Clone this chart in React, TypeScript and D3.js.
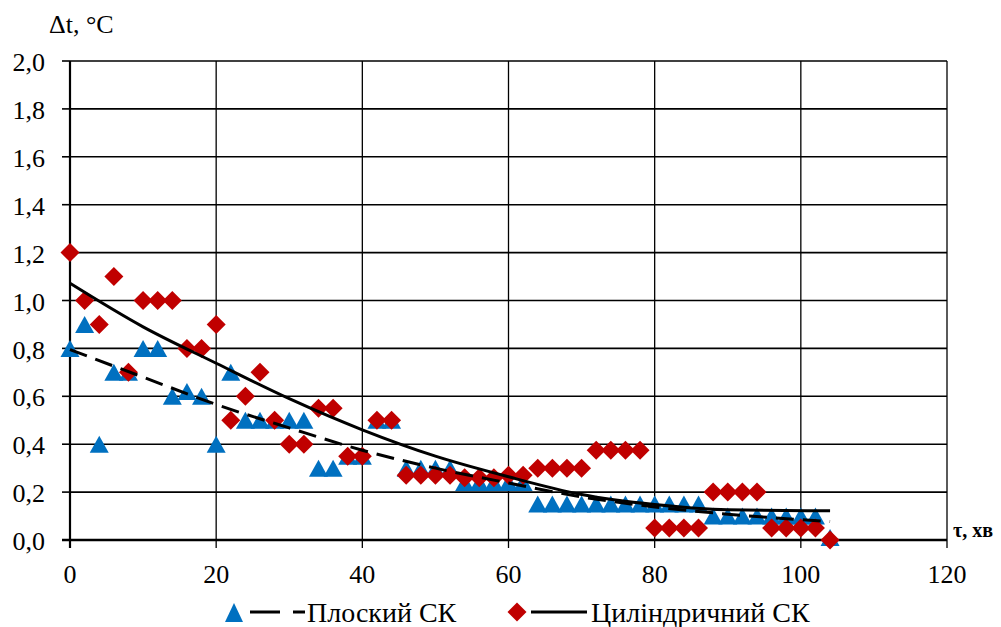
import React from "react";
import * as d3 from "d3";

// ---- data ----
const tau = d3.range(0, 105, 2); // 0..104 min
const flatSK = [
  0.8, 0.9, 0.4, 0.7, 0.7, 0.8, 0.8, 0.6, 0.62, 0.6, 0.4, 0.7, 0.5, 0.5, 0.5, 0.5, 0.5,
  0.3, 0.3, 0.35, 0.35, 0.5, 0.5, 0.3, 0.3, 0.3, 0.3, 0.24, 0.24, 0.24, 0.24, 0.24,
  0.15, 0.15, 0.15, 0.15, 0.15, 0.15, 0.15, 0.15, 0.15, 0.15, 0.15, 0.15,
  0.1, 0.1, 0.1, 0.1, 0.1, 0.1, 0.1, 0.1, 0.01,
];
const cylSK = [
  1.2, 1.0, 0.9, 1.1, 0.7, 1.0, 1.0, 1.0, 0.8, 0.8, 0.9, 0.5, 0.6, 0.7, 0.5, 0.4, 0.4,
  0.55, 0.55, 0.35, 0.35, 0.5, 0.5, 0.27, 0.27, 0.27, 0.27, 0.26, 0.26, 0.26, 0.27, 0.27,
  0.3, 0.3, 0.3, 0.3, 0.375, 0.375, 0.375, 0.375, 0.05, 0.05, 0.05, 0.05,
  0.2, 0.2, 0.2, 0.2, 0.05, 0.05, 0.05, 0.05, 0.0,
];
// trend lines
const trendX = [0, 10, 20, 30, 40, 50, 60, 70, 80, 90, 104];
const trendFlat = [0.795, 0.68, 0.566, 0.468, 0.375, 0.3, 0.238, 0.18, 0.138, 0.108, 0.077];
const trendCyl = [1.072, 0.89, 0.738, 0.59, 0.46, 0.35, 0.264, 0.19, 0.148, 0.126, 0.122];

const xTicks = [0, 20, 40, 60, 80, 100, 120];
const yTicks = [0, 0.2, 0.4, 0.6, 0.8, 1.0, 1.2, 1.4, 1.6, 1.8, 2.0];
const seriesNames = ["Плоский СК", "Циліндричний СК"];
const xTitle = "τ, хв";
const yTitle = "Δt, °C";

const BLUE = "#0070C0";
const RED = "#C00000";
const FONT = "Liberation Serif, Times New Roman, DejaVu Serif, Noto Serif, serif";

const W = 1001, H = 627;
const L = 70, R = 947, T = 61, B = 540;

const tri = (cx: number, cy: number, w = 19, h = 17) =>
  `M${cx},${cy - h / 2}L${cx + w / 2},${cy + h / 2}L${cx - w / 2},${cy + h / 2}Z`;
const dia = (cx: number, cy: number, r = 9.5) =>
  `M${cx},${cy - r}L${cx + r},${cy}L${cx},${cy + r}L${cx - r},${cy}Z`;

export default function App() {
  const x = d3.scaleLinear().domain([0, 120]).range([L, R]);
  const y = d3.scaleLinear().domain([0, 2]).range([B, T]);
  const fmt = (v: number) => d3.format(".1f")(v).replace(".", ",");
  const line = d3
    .line<number>()
    .x((_, i) => x(trendX[i]))
    .y((d) => y(d))
    .curve(d3.curveMonotoneX);
  const ts = { fontFamily: FONT };

  return (
    <svg width={W} height={H} style={{ position: "absolute", left: 0, top: 0, background: "#fff", fontFamily: FONT }}>
      <rect width={W} height={H} fill="#fff" />
      {/* grid */}
      {yTicks.filter((v) => v > 0).map((v) => (
        <line key={"h" + v} x1={L} x2={R} y1={y(v)} y2={y(v)} stroke="#000" strokeWidth={1.6} />
      ))}
      {xTicks.filter((v) => v > 0).map((v) => (
        <line key={"v" + v} x1={x(v)} x2={x(v)} y1={T} y2={B + 8} stroke="#000" strokeWidth={1.3} />
      ))}
      {/* axes */}
      <line x1={L} x2={L} y1={T} y2={B + 8} stroke="#000" strokeWidth={2.2} />
      <line x1={L - 8} x2={R} y1={B} y2={B} stroke="#000" strokeWidth={2.4} />
      {yTicks.map((v) => (
        <line key={"yt" + v} x1={L - 8} x2={L} y1={y(v)} y2={y(v)} stroke="#000" strokeWidth={1.6} />
      ))}
      {/* tick labels */}
      {yTicks.map((v) => (
        <text key={"yl" + v} x={45} y={y(v) + 1} dy="0.35em" textAnchor="end" style={ts} fontSize={26}>
          {fmt(v)}
        </text>
      ))}
      {xTicks.map((v) => (
        <text key={"xl" + v} x={x(v)} y={583} textAnchor="middle" style={ts} fontSize={26}>
          {v}
        </text>
      ))}
      <text x={49} y={33} style={ts} fontSize={26}>{yTitle}</text>
      <text x={953} y={537} style={ts} fontSize={20} fontWeight="bold">{xTitle}</text>

      {/* markers */}
      {flatSK.map((v, i) => (
        <path key={"f" + i} d={tri(x(tau[i]), y(v))} fill={BLUE} />
      ))}
      {cylSK.map((v, i) => (
        <path key={"c" + i} d={dia(x(tau[i]), y(v))} fill={RED} />
      ))}
      {/* trend lines */}
      <path d={line(trendFlat) || ""} fill="none" stroke="#000" strokeWidth={3} strokeDasharray="18 9" />
      <path d={line(trendCyl) || ""} fill="none" stroke="#000" strokeWidth={3} />

      {/* legend */}
      <path d={tri(234, 612.5, 18, 19)} fill={BLUE} />
      <line x1={250} x2={305} y1={612} y2={612} stroke="#000" strokeWidth={3} strokeDasharray="30 13" />
      <text x={307} y={622} style={ts} fontSize={28}>{seriesNames[0]}</text>
      <path d={dia(517, 612, 9.5)} fill={RED} />
      <line x1={531} x2={587} y1={612} y2={612} stroke="#000" strokeWidth={3} />
      <text x={591} y={622} style={ts} fontSize={28}>{seriesNames[1]}</text>
    </svg>
  );
}
